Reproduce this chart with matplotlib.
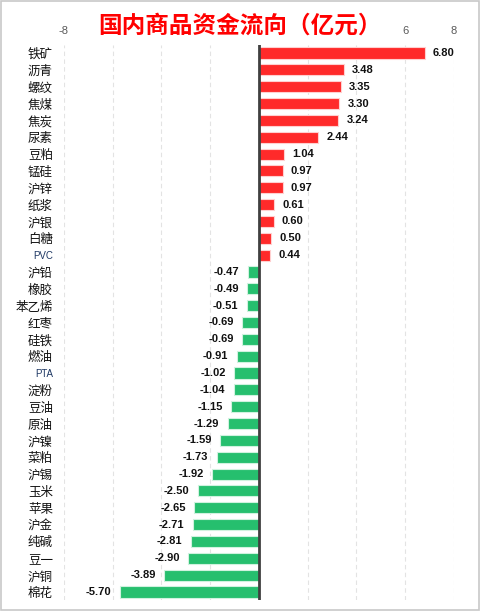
import matplotlib
matplotlib.use("Agg")
import matplotlib.pyplot as plt
from matplotlib.patches import Rectangle

plt.rcParams["font.family"] = ["Noto Sans CJK SC", "DejaVu Sans"]

# ── Daten ──
categories = ["铁矿", "沥青", "螺纹", "焦煤", "焦炭", "尿素", "豆粕", "锰硅", "沪锌",
              "纸浆", "沪银", "白糖", "PVC", "沪铅", "橡胶", "苯乙烯", "红枣", "硅铁",
              "燃油", "PTA", "淀粉", "豆油", "原油", "沪镍", "菜粕", "沪锡", "玉米",
              "苹果", "沪金", "纯碱", "豆一", "沪铜", "棉花"]
values = [6.80, 3.48, 3.35, 3.30, 3.24, 2.44, 1.04, 0.97, 0.97,
          0.61, 0.60, 0.50, 0.44, -0.47, -0.49, -0.51, -0.69, -0.69,
          -0.91, -1.02, -1.04, -1.15, -1.29, -1.59, -1.73, -1.92, -2.50,
          -2.65, -2.71, -2.81, -2.90, -3.89, -5.70]
x_ticks = [-8, -6, -4, -2, 0, 2, 4, 6, 8]
x_tick_labels = ["-8", "", "", "", "", "", "", "6", "8"]
title = "国内商品资金流向（亿元）"

RED = "#FF2A2A"
GREEN = "#26BF6E"

fig = plt.figure(figsize=(4.81, 6.12), dpi=100)
ax = fig.add_axes([64 / 481, 1 - 600.4 / 612, 390 / 481, (600.4 - 44.6) / 612])

ypos = list(range(len(categories)))
colors = [RED if v >= 0 else GREEN for v in values]
edges = ["#FFD0D0" if v >= 0 else "#D0F2DF" for v in values]
ax.barh(ypos, values, height=0.66, color=colors, edgecolor=edges, linewidth=0.8, zorder=3)

for y, v in zip(ypos, values):
    ax.annotate(f"{v:.2f}", xy=(v, y), xytext=(6 if v >= 0 else -6, 0),
                textcoords="offset points", va="center",
                ha="left" if v >= 0 else "right",
                fontsize=8, fontweight="bold", family="Liberation Sans",
                color="#111111", zorder=4)

ax.set_xlim(-8, 8)
ax.set_ylim(len(categories) - 0.5, -0.5)
ax.axvline(0, color="#404040", lw=2, zorder=5)

for t in x_ticks:
    ax.axvline(t, color="#E3E3E3", lw=0.8, ls=(0, (4, 3)), zorder=1)

ax.xaxis.tick_top()
ax.set_xticks(x_ticks)
ax.set_xticklabels(x_tick_labels, fontsize=8, color="#595959", family="Liberation Sans")
ax.tick_params(axis="x", length=0, pad=6)

ax.set_yticks(ypos)
ax.set_yticklabels(categories, fontsize=9, color="#111111")
ax.tick_params(axis="y", length=0, pad=8)
for lbl in ax.get_yticklabels():
    if lbl.get_text() in ("PVC", "PTA"):
        lbl.set_fontsize(7)
        lbl.set_color("#1F3864")
        lbl.set_family("Liberation Sans")

for s in ax.spines.values():
    s.set_visible(False)

fig.text(240 / 481, 1 - 26 / 612, title, ha="center", va="center",
         fontsize=17, color="#FF0000", fontweight="bold")

fig.patches.append(Rectangle((0.002, 0.003), 0.994, 0.995, transform=fig.transFigure,
                             fill=False, edgecolor="#C8C8C8", lw=1.2))

fig.savefig("out.png", dpi=100)
